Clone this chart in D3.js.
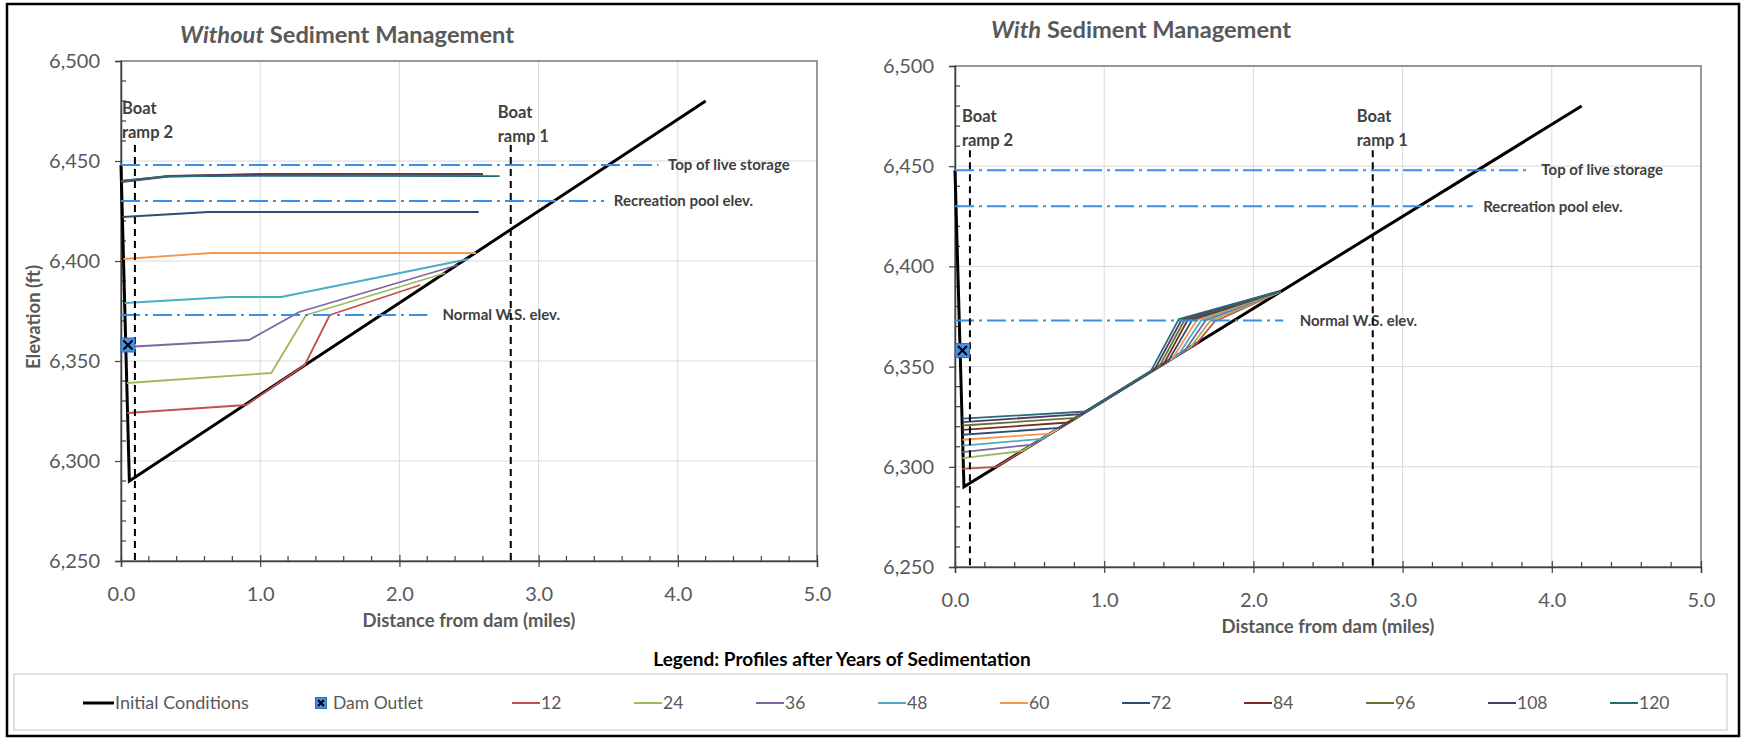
<!DOCTYPE html>
<html><head><meta charset="utf-8">
<script src="https://cdn.jsdelivr.net/npm/d3@7"></script>
<style>
body{margin:0;background:#fff;}
svg text{font-family:Lato,"Open Sans",sans-serif;}
</style></head><body>
<svg id="chart" width="1741" height="738"></svg>
<script>
// ---------- data ----------
const xTickValues=[0,1,2,3,4,5];
const yTickValues=[6250,6300,6350,6400,6450,6500];
const years=[12,24,36,48,60,72,84,96,108,120];
const seriesColors=["#c0504d","#9bbb59","#8064a2","#4bacc6","#f79646","#2c4d75","#772c2a","#5f7530","#4d3b62","#276a7c"];
const initialConditions=[[0,6448],[0.06,6290],[4.2,6480]];
const damOutlet=[0.05,6358];
const refLabels=["Top of live storage","Recreation pool elev.","Normal W.S. elev."];
const refElev=[6448,6430,6373];
const refEnd=[3.86,3.47,2.2];
const refLabelX=[3.93,3.54,2.31];
const rampLabels=[["Boat","ramp 2"],["Boat","ramp 1"]];
const rampX=[0.1,2.8];
const rampTop=6458;

// Without sediment management profiles
const without12=[[0.045,6324],[0.9,6328],[1.32,6348],[1.5,6373],[2.15,6388]];
const without24=[[0.042,6339],[1.08,6344],[1.33,6373],[2.33,6394]];
const without36=[[0.035,6357],[0.92,6360.5],[1.28,6374.5],[2.42,6398]];
const without48=[[0.027,6379],[0.78,6382],[1.15,6382],[2.5,6401]];
const without60=[[0.018,6401],[0.65,6404],[2.55,6404]];
const without72=[[0.010,6422],[0.63,6424.5],[2.57,6424.5]];
const without84=[[0.003,6439.5],[0.34,6442.2],[1.05,6443.2],[2.6,6443.2]];
const without96=[[0.003,6439.7],[0.34,6442.4],[1.05,6443.4],[2.6,6443.4]];
const without108=[[0.003,6439.9],[0.34,6442.6],[1.05,6443.6],[2.6,6443.6]];
const without120=[[0.003,6440.2],[0.34,6442.3],[1.05,6442.6],[2.72,6442.4]];

// With sediment management profiles
const with12=[[0.05,6299],[0.28,6300],[1.62,6361.6],[1.74,6372.5],[2.18,6387.3]];
const with24=[[0.05,6304.3],[0.45,6307.9],[1.58,6359.8],[1.71,6372.8],[2.18,6387.3]];
const with36=[[0.05,6307.3],[0.52,6311.1],[1.54,6357.9],[1.68,6373],[2.18,6387.4]];
const with48=[[0.05,6310.6],[0.58,6313.9],[1.50,6356.1],[1.65,6373.1],[2.18,6387.4]];
const with60=[[0.05,6313.5],[0.64,6316.6],[1.46,6354.3],[1.62,6373.2],[2.18,6387.5]];
const with72=[[0.05,6316],[0.70,6319.4],[1.43,6352.9],[1.59,6373.3],[2.18,6387.5]];
const with84=[[0.05,6318.4],[0.76,6322.1],[1.40,6351.5],[1.56,6373.4],[2.18,6387.6]];
const with96=[[0.05,6320.6],[0.81,6324.4],[1.37,6350.1],[1.54,6373.5],[2.18,6387.6]];
const with108=[[0.05,6322.3],[0.85,6326.3],[1.34,6348.8],[1.52,6373.6],[2.18,6387.7]];
const with120=[[0.05,6324],[0.88,6327.6],[1.31,6347.4],[1.50,6373.7],[2.18,6387.8]];

const withoutProfiles=[without12,without24,without36,without48,without60,without72,without84,without96,without108,without120];
const withProfiles=[with12,with24,with36,with48,with60,with72,with84,with96,with108,with120];

// ---------- drawing ----------
const svg=d3.select("#chart");
svg.append("rect").attr("x",0).attr("y",0).attr("width",1741).attr("height",738).attr("fill","#fff");
// outer frame
svg.append("rect").attr("x",7).attr("y",4).attr("width",1732).attr("height",732)
  .attr("fill","none").attr("stroke","#000").attr("stroke-width",2.5);

const refBlue="#3a8ee6";

function drawChart(cfg){
  const x=d3.scaleLinear().domain([0,5]).range([cfg.x0,cfg.x1]);
  const y=d3.scaleLinear().domain([6250,6500]).range([cfg.y0,cfg.y1]);
  const g=svg.append("g");
  const line=d3.line().x(d=>x(d[0])).y(d=>y(d[1]));

  // gridlines
  g.selectAll(".vg").data(xTickValues.slice(1,-1)).join("line")
    .attr("x1",d=>x(d)).attr("x2",d=>x(d)).attr("y1",y(6500)).attr("y2",y(6250))
    .attr("stroke","#d9d9d9").attr("stroke-width",1);
  g.selectAll(".hg").data(yTickValues.slice(1,-1)).join("line")
    .attr("x1",x(0)).attr("x2",x(5)).attr("y1",d=>y(d)).attr("y2",d=>y(d))
    .attr("stroke","#d9d9d9").attr("stroke-width",1);
  // plot border
  g.append("rect").attr("x",x(0)).attr("y",y(6500)).attr("width",x(5)-x(0)).attr("height",y(6250)-y(6500))
    .attr("fill","none").attr("stroke","#767676").attr("stroke-width",1.5);

  // axes
  const yAxis=g.append("g").attr("transform",`translate(${x(0)},0)`)
    .call(d3.axisLeft(y).tickValues(yTickValues).tickSize(6).tickPadding(15).tickFormat(d3.format(",")));
  const xAxis=g.append("g").attr("transform",`translate(0,${y(6250)})`)
    .call(d3.axisBottom(x).tickValues(xTickValues).tickSize(6).tickPadding(20).tickFormat(d3.format(".1f")));
  xAxis.selectAll(".tick line").attr("y1",-6);
  [yAxis,xAxis].forEach(a=>{
    a.select(".domain").attr("stroke","#404040").attr("stroke-width",1.5);
    a.selectAll(".tick line").attr("stroke","#404040").attr("stroke-width",1.2);
    a.selectAll(".tick text").attr("fill","#595959").attr("font-size",20).attr("font-family","Lato");
  });
  // minor ticks
  const minorY=y.ticks(25).filter(v=>!yTickValues.includes(v));
  g.selectAll(".my").data(minorY).join("line")
    .attr("x1",x(0)).attr("x2",x(0)+5).attr("y1",d=>y(d)).attr("y2",d=>y(d))
    .attr("stroke","#404040").attr("stroke-width",1.2);
  const minorX=x.ticks(25).filter(v=>Math.abs(v-Math.round(v))>1e-6);
  g.selectAll(".mx").data(minorX).join("line")
    .attr("x1",d=>x(d)).attr("x2",d=>x(d)).attr("y1",y(6250)).attr("y2",y(6250)-5)
    .attr("stroke","#404040").attr("stroke-width",1.2);

  // initial conditions
  g.append("path").datum(initialConditions).attr("d",line)
    .attr("fill","none").attr("stroke","#000").attr("stroke-width",3).attr("stroke-linejoin","miter");

  // profiles
  cfg.profiles.forEach((p,i)=>{
    g.append("path").datum(p).attr("d",line).attr("fill","none")
      .attr("stroke",seriesColors[i]).attr("stroke-width",1.8).attr("stroke-linejoin","round");
  });

  // reference elevations
  refElev.forEach((e,i)=>{
    g.append("line").attr("x1",x(0)).attr("x2",x(refEnd[i])).attr("y1",y(e)).attr("y2",y(e))
      .attr("stroke",refBlue).attr("stroke-width",2).attr("stroke-dasharray","19,5,3,5");
    g.append("text").attr("x",x(refLabelX[i])).attr("y",y(e)).attr("dy","0.35em")
      .attr("font-size",15).attr("font-weight",700).attr("fill","#404040").text(refLabels[i]);
  });

  // boat ramps
  rampX.forEach((r,i)=>{
    g.append("line").attr("x1",x(r)).attr("x2",x(r)).attr("y1",y(rampTop)).attr("y2",y(6250))
      .attr("stroke","#000").attr("stroke-width",2).attr("stroke-dasharray","7,5");
    const t=g.append("text").attr("x",x(r)-cfg.rampOff[i]).attr("y",y(rampTop)-cfg.rampDy[i])
      .attr("font-size",16.5).attr("font-weight",700).attr("fill","#404040");
    t.append("tspan").attr("x",x(r)-cfg.rampOff[i]).attr("dy",0).text(rampLabels[i][0]);
    t.append("tspan").attr("x",x(r)-cfg.rampOff[i]).attr("dy",24).text(rampLabels[i][1]);
  });

  // dam outlet marker
  drawOutlet(g,x(damOutlet[0]),y(damOutlet[1]),14);

  // titles
  const tt=g.append("text").attr("x",cfg.titleX).attr("y",cfg.titleY).attr("text-anchor","middle")
    .attr("font-size",23.7).attr("font-weight",700).attr("fill","#595959");
  tt.append("tspan").attr("font-style","italic").text(cfg.titleItalic);
  tt.append("tspan").text(" Sediment Management");

  g.append("text").attr("x",(x(0)+x(5))/2).attr("y",y(6250)+66).attr("text-anchor","middle")
    .attr("font-size",18.5).attr("font-weight",700).attr("fill","#595959").text("Distance from dam (miles)");
  if(cfg.yTitle){
    g.append("text").attr("transform",`translate(40,${(y(6250)+y(6500))/2+6}) rotate(-90)`)
      .attr("text-anchor","middle").attr("font-size",18.5).attr("font-weight",700).attr("fill","#595959")
      .text("Elevation (ft)");
  }
}

function drawOutlet(g,cx,cy,s){
  g.append("rect").attr("x",cx-s/2).attr("y",cy-s/2).attr("width",s).attr("height",s)
    .attr("fill","#4a90e2").attr("stroke","#2b6cb8").attr("stroke-width",1);
  const h=s/2-2.5;
  g.append("path").attr("d",`M${cx-h},${cy-h}L${cx+h},${cy+h}M${cx-h},${cy+h}L${cx+h},${cy-h}`)
    .attr("stroke","#000").attr("stroke-width",2);
}

drawChart({x0:121,x1:817,y0:561,y1:61,profiles:withoutProfiles,titleItalic:"Without",titleX:347,titleY:43,
  yTitle:true,rampOff:[13,13],rampDy:[31,27]});
drawChart({x0:955,x1:1701,y0:567,y1:66,profiles:withProfiles,titleItalic:"With",titleX:1141,titleY:38,
  yTitle:false,rampOff:[8,16],rampDy:[28,28]});

// ---------- legend ----------
svg.append("text").attr("x",842).attr("y",666).attr("text-anchor","middle").attr("font-size",19)
  .attr("font-weight",700).attr("fill","#000").text("Legend: Profiles after Years of Sedimentation");
svg.append("rect").attr("x",14).attr("y",674).attr("width",1713).attr("height",56)
  .attr("fill","#fff").attr("stroke","#d9d9d9").attr("stroke-width",1.5);
const ly=703;
const lg=svg.append("g");
lg.append("line").attr("x1",83).attr("x2",114).attr("y1",ly).attr("y2",ly).attr("stroke","#000").attr("stroke-width",3);
lg.append("text").attr("x",115).attr("y",ly).attr("dy","0.35em").attr("font-size",18).attr("fill","#595959").text("Initial Conditions");
drawOutlet(lg,321,ly,11);
lg.append("text").attr("x",333).attr("y",ly).attr("dy","0.35em").attr("font-size",17.5).attr("fill","#595959").text("Dam Outlet");
years.forEach((yr,i)=>{
  const lx=512+i*122;
  lg.append("line").attr("x1",lx).attr("x2",lx+28).attr("y1",ly).attr("y2",ly).attr("stroke",seriesColors[i]).attr("stroke-width",2);
  lg.append("text").attr("x",lx+29).attr("y",ly).attr("dy","0.35em").attr("font-size",17.5).attr("fill","#595959").text(yr);
});
</script>
</body></html>
